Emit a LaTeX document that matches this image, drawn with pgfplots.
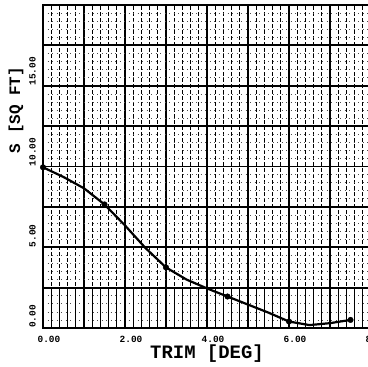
\documentclass[border=0pt]{standalone}
\usepackage{fontspec}
\setmainfont{Liberation Mono}
\usepackage{pgfplots}
\pgfplotsset{compat=1.18}
\begin{document}
\begin{tikzpicture}
\clip (-43bp,-39bp) rectangle (325bp,328bp);
\begin{axis}[
  at={(0,0)}, anchor=origin,
  x=41bp, y=16.15bp,
  xmin=0, xmax=8, ymin=0, ymax=20,
  scale only axis,
  axis line style={line width=2bp},
  xtick={0,1,...,8},
  xticklabels={0.00,,2.00,,4.00,,6.00,,8.00},
  ytick={0,2.5,...,20},
  yticklabels={0.00,,5.00,,10.00,,15.00,,},
  minor x tick num=4,
  minor y tick num=4,
  major tick length=0pt, minor tick length=0pt,
  grid=both,
  major grid style={black, line width=1.8bp},
  minor x grid style={black, line width=1.2bp, dash pattern=on 3.5bp off 2.5bp},
  minor y grid style={black!70, line width=0.6bp, dash pattern=on 1bp off 3.5bp},
  /pgf/number format/assume math mode=true,
  ticklabel style={font=\bfseries\fontsize{9.5}{10}\selectfont, inner sep=0pt},
  xticklabel style={anchor=north, xshift=6bp, yshift=-8bp},
  yticklabel style={xshift=-7bp, rotate=90, anchor=south west},
  xlabel={TRIM [DEG]},
  xlabel style={font=\bfseries\fontsize{19}{20}\selectfont, at={(axis description cs:0.5,0)}, anchor=center, yshift=-26bp},
  ylabel={S  [SQ FT]},
  ylabel style={font=\bfseries\fontsize{16}{17}\selectfont, at={(axis description cs:0,0.675)}, anchor=center, yshift=27bp},
  clip=false,
]
\pgfplotsinvokeforeach{0.2,0.4,...,7.8}{
  \draw[black, line width=1.2bp] (axis cs:#1,0) -- (axis cs:#1,2.5);
}
\addplot[black, line width=2.2bp, no marks] coordinates {
 (0,9.95) (0.5,9.35) (1.0,8.65) (1.5,7.65) (2.0,6.35) (2.5,4.95) (3.0,3.75)
 (3.5,3.0) (4.0,2.45) (4.5,1.95) (5.0,1.45) (5.5,0.95) (6.0,0.4) (6.5,0.18)
 (7.0,0.3) (7.5,0.5)
};
\addplot[black, only marks, mark=*, mark size=2.8bp] coordinates {
 (0,9.95) (1.5,7.65) (3.0,3.75) (4.5,1.95) (6.0,0.4) (7.5,0.5)
};
\end{axis}
\end{tikzpicture}
\end{document}
